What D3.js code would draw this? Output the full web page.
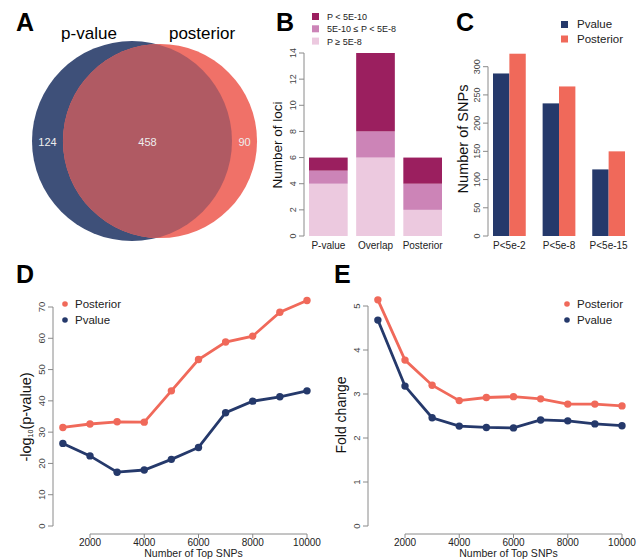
<!DOCTYPE html>
<html>
<head>
<meta charset="utf-8">
<script src="https://cdn.jsdelivr.net/npm/d3@7"></script>
<style>
  body { margin: 0; background: #fff; }
  text { font-family: "Liberation Sans", Arial, sans-serif; }
</style>
</head>
<body>
<svg id="fig" width="643" height="559"></svg>
<script>
// data
var vennNames = ['p-value', 'posterior'];
var vennCounts = [124, 458, 90]; // only p-value, overlap, only posterior

var lociGroups = ['P-value', 'Overlap', 'Posterior'];
var lociLevels = ['P \u2265 5E-8', '5E-10 \u2264 P < 5E-8', 'P < 5E-10'];
var lociLight = [4, 6, 2];
var lociMid = [1, 2, 2];
var lociDark = [1, 6, 2];

var snpCats = ['P<5e-2', 'P<5e-8', 'P<5e-15'];
var snpPvalue = [288, 235, 118];
var snpPosterior = [323, 265, 150];

var topN = [1000, 2000, 3000, 4000, 5000, 6000, 7000, 8000, 9000, 10000];
var logpPosterior = [31.5, 32.6, 33.3, 33.2, 43.2, 53.2, 58.8, 60.7, 68.3, 72.1];
var logpPvalue = [26.4, 22.4, 17.2, 17.9, 21.3, 25.1, 36.2, 39.9, 41.3, 43.2];
var foldPosterior = [5.14, 3.77, 3.20, 2.85, 2.92, 2.94, 2.89, 2.77, 2.77, 2.73];
var foldPvalue = [4.68, 3.18, 2.46, 2.27, 2.24, 2.23, 2.41, 2.39, 2.32, 2.28];

var blue = '#25396b', red = '#f0695a';
var axisCol = '#8a8a8a', tickCol = '#444';

var svg = d3.select('#fig');

function letter(x, y, t) {
  svg.append('text').attr('x', x).attr('y', y).text(t)
    .style('font-size', '25px').style('font-weight', 'bold');
}

// R style left axis: line from first to last tick, rotated labels
function leftAxis(g, y, ticks, x0, fs) {
  g.append('line').attr('x1', x0).attr('x2', x0)
    .attr('y1', y(ticks[0])).attr('y2', y(ticks[ticks.length - 1]))
    .attr('stroke', axisCol);
  ticks.forEach(function(t) {
    g.append('line').attr('x1', x0 - 5).attr('x2', x0)
      .attr('y1', y(t)).attr('y2', y(t)).attr('stroke', axisCol);
    g.append('text').attr('transform', 'translate(' + (x0 - 8) + ',' + y(t) + ') rotate(-90)')
      .attr('text-anchor', 'middle').style('font-size', fs + 'px').style('fill', tickCol).text(t);
  });
}
function bottomAxis(g, x, ticks, y0) {
  g.append('line').attr('x1', x(ticks[0])).attr('x2', x(ticks[ticks.length - 1]))
    .attr('y1', y0).attr('y2', y0).attr('stroke', axisCol);
  ticks.forEach(function(t) {
    g.append('line').attr('x1', x(t)).attr('x2', x(t))
      .attr('y1', y0).attr('y2', y0 + 4).attr('stroke', axisCol);
    g.append('text').attr('x', x(t)).attr('y', y0 + 12).attr('text-anchor', 'middle')
      .style('font-size', '10px').style('fill', '#222').text(t);
  });
}
function yLabel(g, x, y, t, fs) {
  return g.append('text').attr('transform', 'translate(' + x + ',' + y + ') rotate(-90)')
    .attr('text-anchor', 'middle').style('font-size', fs + 'px').style('fill', '#111').text(t);
}

// ---- A: venn
letter(16, 31, 'A');
(function() {
  var g = svg.append('g');
  var r = d3.scaleSqrt().domain([0, vennCounts[0] + vennCounts[1]]).range([0, 100]);
  var rA = r(vennCounts[0] + vennCounts[1]), rB = r(vennCounts[1] + vennCounts[2]);
  var cy = 141, cxA = 132, cxB = 160;
  g.append('circle').attr('cx', cxA).attr('cy', cy).attr('r', rA).attr('fill', '#3e5079');
  g.append('circle').attr('cx', cxB).attr('cy', cy).attr('r', rB).attr('fill', '#f07168');
  svg.append('clipPath').attr('id', 'clipA').append('circle')
    .attr('cx', cxA).attr('cy', cy).attr('r', rA);
  g.append('circle').attr('cx', cxB).attr('cy', cy).attr('r', rB)
    .attr('fill', '#b05a63').attr('clip-path', 'url(#clipA)');
  var lx = [(cxA - rA + cxB - rB) / 2, (cxB - rB + cxA + rA) / 2, (cxA + rA + cxB + rB) / 2];
  vennCounts.forEach(function(c, i) {
    g.append('text').attr('x', lx[i]).attr('y', cy + 5).attr('text-anchor', 'middle')
      .style('font-size', '11px').style('fill', '#eee').text(c);
  });
  g.append('text').attr('x', 89).attr('y', 39).attr('text-anchor', 'middle')
    .style('font-size', '17px').text(vennNames[0]);
  g.append('text').attr('x', 202).attr('y', 39).attr('text-anchor', 'middle')
    .style('font-size', '17px').text(vennNames[1]);
})();

// ---- B: stacked bars
letter(276, 31, 'B');
(function() {
  var g = svg.append('g');
  var x = d3.scaleBand().domain(lociGroups).range([309, 442]).paddingInner(0.18);
  var y = d3.scaleLinear().domain([0, 14]).range([236, 53]);
  var cols = ['#ecc9df', '#cc84b7', '#9b1f5f'];
  var series = d3.stack().keys([0, 1, 2])(lociGroups.map(function(d, i) {
    return [lociLight[i], lociMid[i], lociDark[i]];
  }));
  series.forEach(function(s, k) {
    g.selectAll(null).data(s).enter().append('rect')
      .attr('x', function(d, i) { return x(lociGroups[i]); })
      .attr('width', x.bandwidth())
      .attr('y', function(d) { return y(d[1]); })
      .attr('height', function(d) { return y(d[0]) - y(d[1]); })
      .attr('fill', cols[k]);
  });
  leftAxis(g, y, d3.range(0, 15, 2), 304, 9);
  lociGroups.forEach(function(c) {
    g.append('text').attr('x', x(c) + x.bandwidth() / 2).attr('y', 249)
      .attr('text-anchor', 'middle').style('font-size', '10px').style('fill', '#222').text(c);
  });
  yLabel(g, 282, 145, 'Number of loci', 13.5);
  [2, 1, 0].forEach(function(k, j) {
    g.append('rect').attr('x', 312).attr('y', 13 + j * 12.3).attr('width', 7).attr('height', 7)
      .attr('fill', cols[k]);
    g.append('text').attr('x', 327).attr('y', 20 + j * 12.3).style('font-size', '9px')
      .style('fill', '#222').text(lociLevels[k]);
  });
})();

// ---- C: grouped bars
letter(456, 31, 'C');
(function() {
  var g = svg.append('g');
  var x = d3.scaleBand().domain(snpCats).range([493, 625]).paddingInner(0.34);
  var xs = d3.scaleBand().domain([0, 1]).range([0, x.bandwidth()]);
  var y = d3.scaleLinear().domain([0, 300]).range([236, 66.7]);
  [snpPvalue, snpPosterior].forEach(function(vals, k) {
    g.selectAll(null).data(vals).enter().append('rect')
      .attr('x', function(d, i) { return x(snpCats[i]) + xs(k); })
      .attr('width', xs.bandwidth())
      .attr('y', function(d) { return y(d); })
      .attr('height', function(d) { return y(0) - y(d); })
      .attr('fill', k ? red : blue);
  });
  leftAxis(g, y, d3.range(0, 301, 50), 488, 9);
  snpCats.forEach(function(c) {
    g.append('text').attr('x', x(c) + x.bandwidth() / 2).attr('y', 249)
      .attr('text-anchor', 'middle').style('font-size', '10px').style('fill', '#222').text(c);
  });
  yLabel(g, 468, 139, 'Number of SNPs', 14.5);
  ['Pvalue', 'Posterior'].forEach(function(t, j) {
    g.append('rect').attr('x', 561).attr('y', 21 + j * 14.5).attr('width', 7).attr('height', 7)
      .attr('fill', j ? red : blue);
    g.append('text').attr('x', 577).attr('y', 28 + j * 14.5).style('font-size', '11.5px')
      .style('fill', '#222').text(t);
  });
})();

// ---- D, E: line charts
function linePanel(opt) {
  var g = svg.append('g');
  var x = d3.scaleLinear().domain([2000, 10000]).range(opt.xr);
  var y = d3.scaleLinear().domain([0, opt.ymax]).range([526, opt.ytop]);
  var line = d3.line().x(function(d, i) { return x(topN[i]); }).y(function(d) { return y(d); });
  [[opt.pv, blue], [opt.po, red]].forEach(function(s) {
    g.append('path').attr('d', line(s[0])).attr('fill', 'none')
      .attr('stroke', s[1]).attr('stroke-width', 2.8);
    g.selectAll(null).data(s[0]).enter().append('circle')
      .attr('cx', function(d, i) { return x(topN[i]); })
      .attr('cy', function(d) { return y(d); })
      .attr('r', 3.7).attr('fill', s[1]);
  });
  leftAxis(g, y, opt.yticks, opt.yx, 9.5);
  bottomAxis(g, x, d3.range(2000, 10001, 2000), 534);
  g.append('text').attr('x', (x(2000) + x(10000)) / 2 - 5).attr('y', 557).attr('text-anchor', 'middle')
    .style('font-size', '10.5px').style('fill', '#222').text('Number of Top SNPs');
  [['Posterior', red], ['Pvalue', blue]].forEach(function(l, j) {
    g.append('circle').attr('cx', opt.lx).attr('cy', 304 + j * 16).attr('r', 2.8).attr('fill', l[1]);
    g.append('text').attr('x', opt.lx + 10).attr('y', 308 + j * 16).style('font-size', '11.5px')
      .style('fill', '#222').text(l[0]);
  });
  return g;
}

letter(16, 283, 'D');
var gD = linePanel({ xr: [90, 307], ymax: 70, ytop: 307, yticks: d3.range(0, 71, 10), yx: 53,
  po: logpPosterior, pv: logpPvalue, lx: 65 });
var lab = yLabel(gD, 31, 417, '', 14.5);
lab.append('tspan').text('-log');
lab.append('tspan').text('10').style('font-size', '7px').attr('dy', 2);
lab.append('tspan').text('(p-value)').attr('dy', -2);

letter(334, 283, 'E');
var gE = linePanel({ xr: [405, 622], ymax: 5, ytop: 306, yticks: d3.range(0, 6), yx: 368,
  po: foldPosterior, pv: foldPvalue, lx: 567 });
yLabel(gE, 346, 415, 'Fold change', 14);
</script>
</body>
</html>
